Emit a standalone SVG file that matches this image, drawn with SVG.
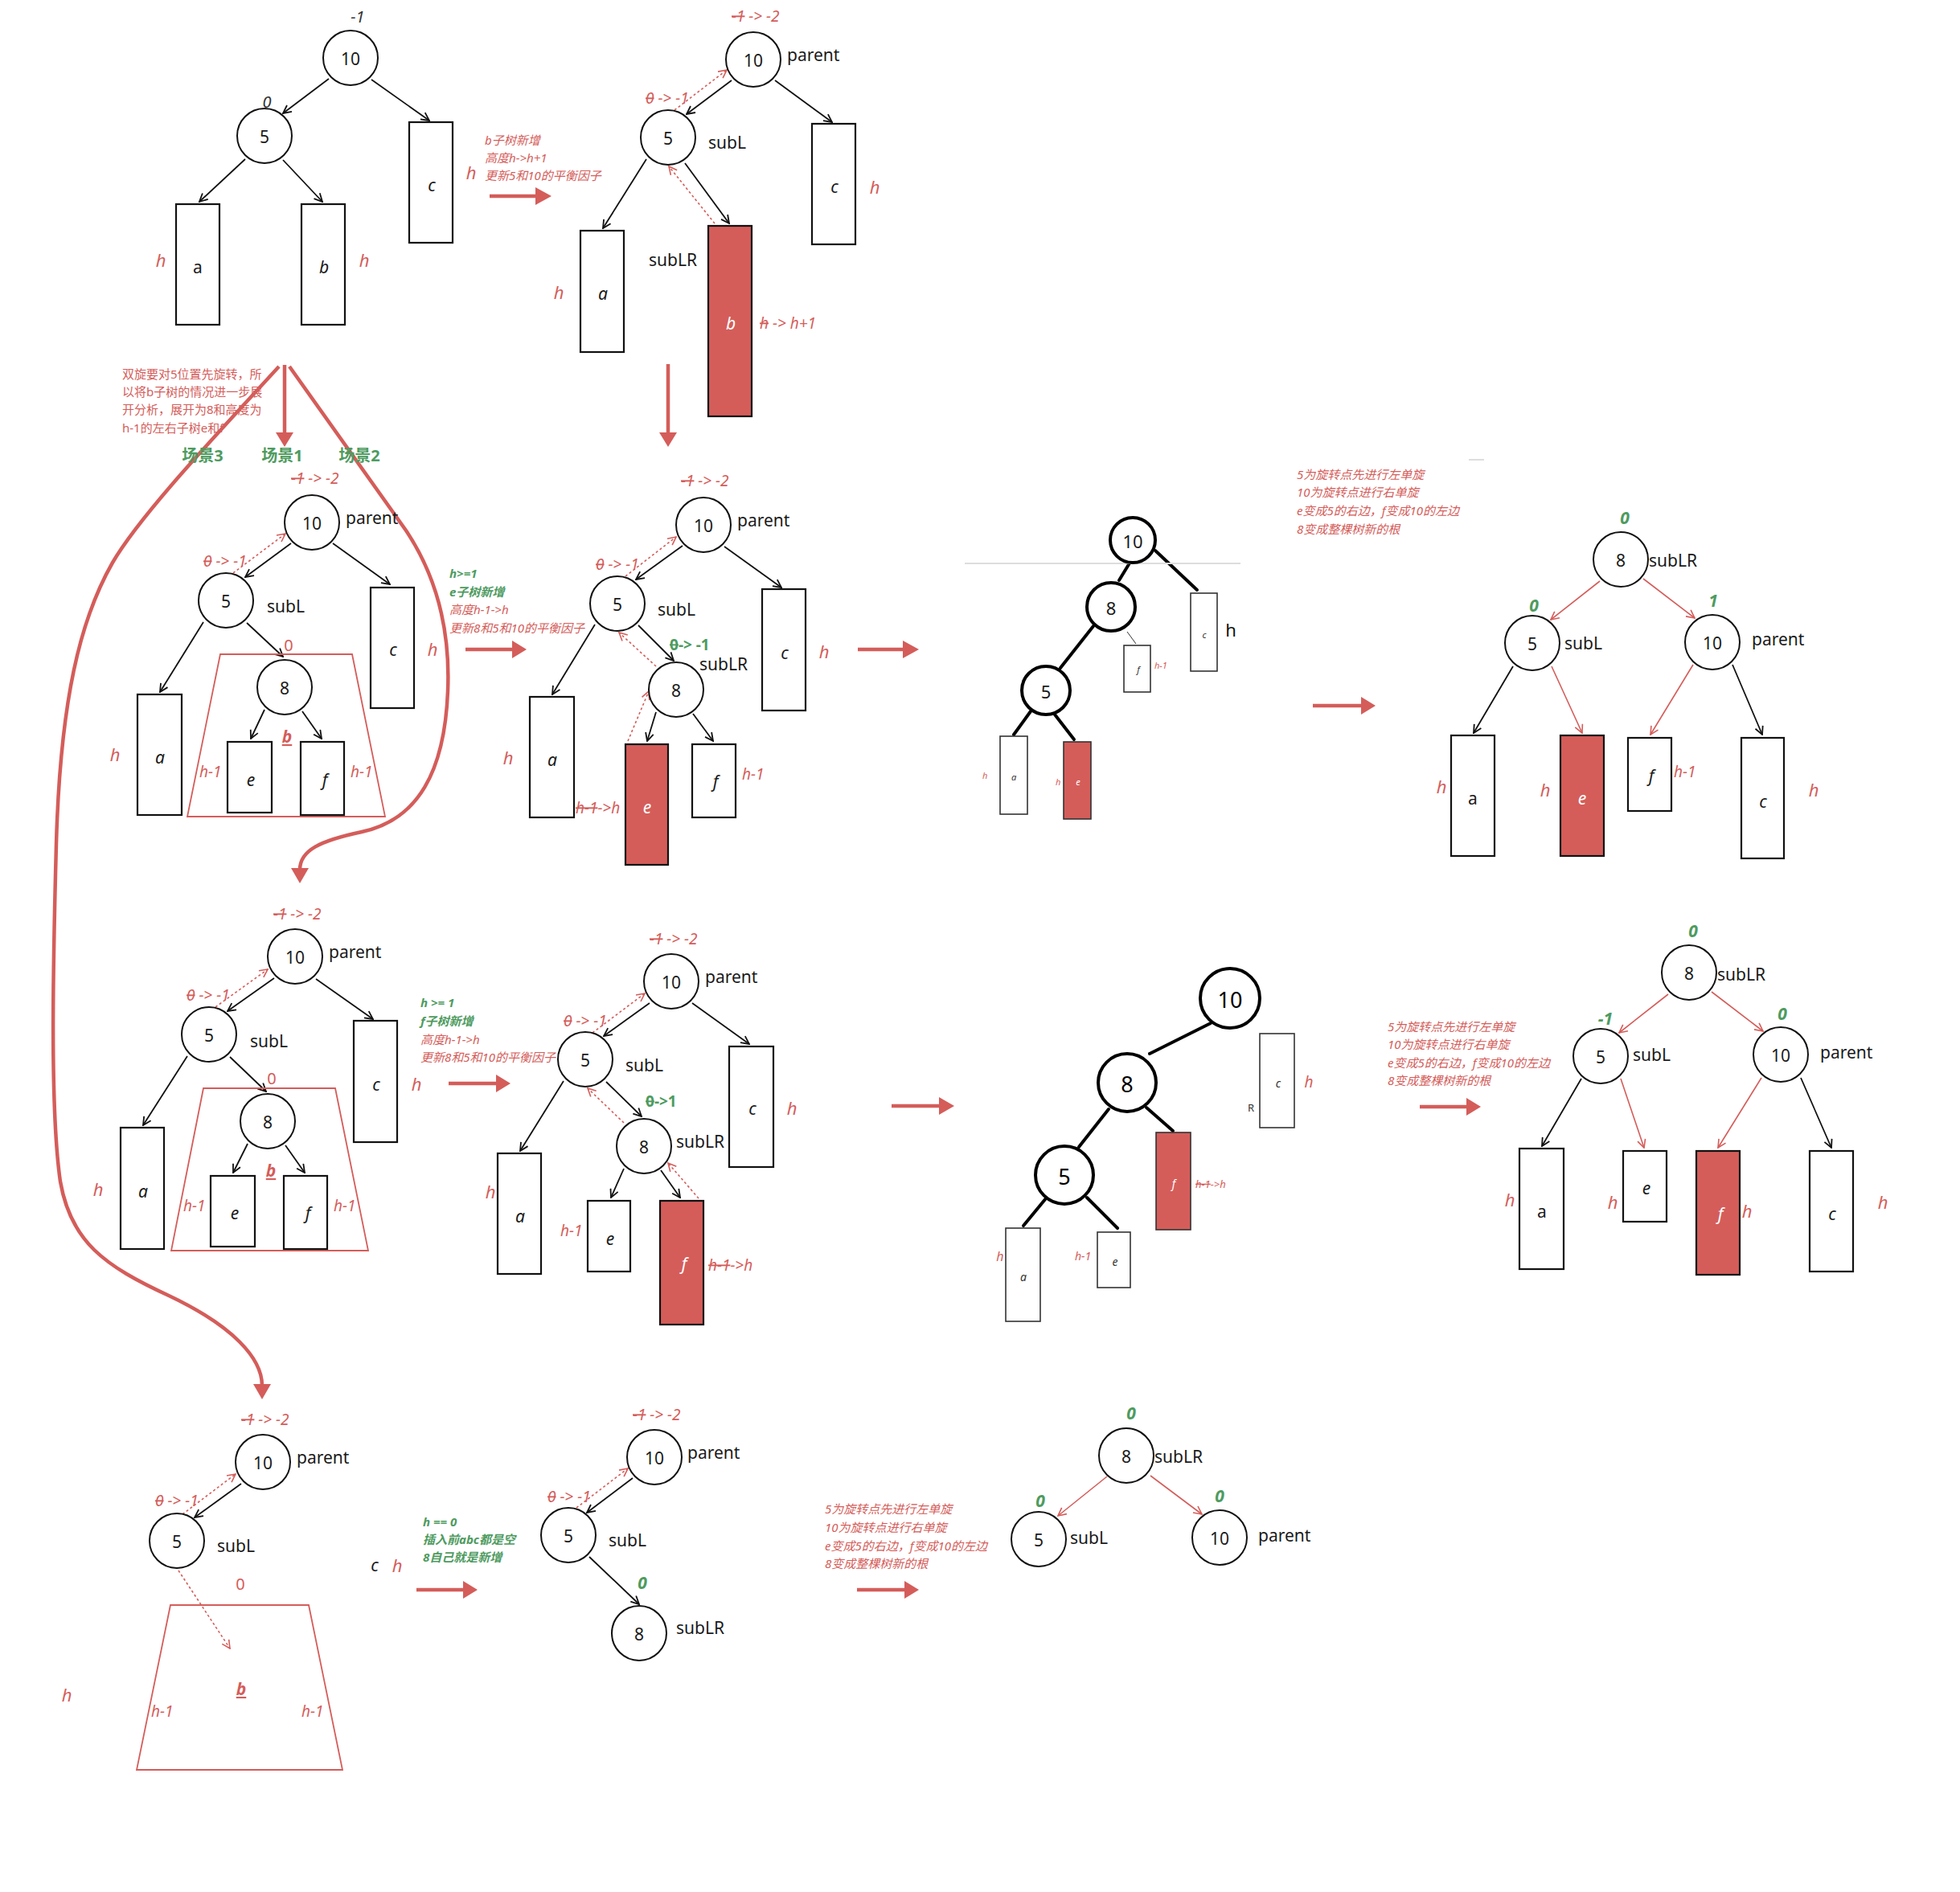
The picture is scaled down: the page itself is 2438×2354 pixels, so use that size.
<svg xmlns="http://www.w3.org/2000/svg" width="2438" height="2354" viewBox="0 0 2438 2354">
<defs>
<style>
text{font-family:"Noto Sans","Noto Sans CJK SC",sans-serif}
.n{fill:#fff;stroke:#111;stroke-width:2}
.nk{fill:#fff;stroke:#000;stroke-width:4}
.bx{fill:#fff;stroke:#111;stroke-width:2.2}
.rb{fill:#d45d5a;stroke:#111;stroke-width:2.2}
.tb{fill:#fff;stroke:#333;stroke-width:1.6}
.trb{fill:#d45d5a;stroke:#333;stroke-width:1.6}
.tz{fill:none;stroke:#d45d5a;stroke-width:1.8}
.e{fill:none;stroke:#111;stroke-width:1.8;marker-end:url(#ka)}
.re{fill:none;stroke:#d45d5a;stroke-width:1.6;marker-end:url(#ra)}
.de{fill:none;stroke:#d45d5a;stroke-width:1.6;stroke-dasharray:3 3;marker-end:url(#ra)}
.tk{fill:none;stroke:#000;stroke-width:4;stroke-linecap:round}
.big{fill:none;stroke:#d45d5a;stroke-width:4.5}
.gl{fill:none;stroke:#ddd;stroke-width:2}
.ah{fill:#d45d5a}
.nt{font-size:21px;fill:#1a1a1a;text-anchor:middle;dominant-baseline:central}
.nb{font-size:27px;fill:#000;text-anchor:middle;dominant-baseline:central}
.lb{font-size:21px;fill:#1a1a1a}
.h{font-size:22px;font-style:italic;fill:#d45d5a;text-anchor:middle;dominant-baseline:central}
.bt{font-size:21px;font-style:italic;fill:#1a1a1a;text-anchor:middle;dominant-baseline:central}
.bn{font-size:21px;fill:#1a1a1a;text-anchor:middle;dominant-baseline:central}
.w{fill:#fff}
.bf{font-size:19px;font-style:italic;fill:#d45d5a;dominant-baseline:central}
.an{font-size:15px;font-style:italic;fill:#d45d5a;dominant-baseline:central}
.ag{font-size:15px;font-style:italic;font-weight:bold;fill:#4e9b5f;dominant-baseline:central}
.ar{font-size:15px;fill:#d45d5a;dominant-baseline:central}
.sc{font-size:20px;font-weight:bold;fill:#4e9b5f;text-anchor:middle;dominant-baseline:central}
.g0{font-size:21px;font-weight:bold;font-style:italic;fill:#4e9b5f;text-anchor:middle;dominant-baseline:central}
.gb{font-size:19px;font-weight:bold;fill:#4e9b5f;dominant-baseline:central}
.z{font-size:20px;fill:#d45d5a;text-anchor:middle;dominant-baseline:central}
.dk{font-size:20px;font-style:italic;fill:#333;text-anchor:middle;dominant-baseline:central}
.bb{font-size:21px;font-style:italic;font-weight:bold;fill:#d45d5a;text-anchor:middle;text-decoration:underline}
.s{text-decoration:line-through}
.sm{font-size:11px;fill:#333;text-anchor:middle;dominant-baseline:central}
.smi{font-size:11px;font-style:italic;fill:#333;text-anchor:middle;dominant-baseline:central}
.sr{font-size:11px;font-style:italic;fill:#d45d5a;dominant-baseline:central}
.hk{font-size:22px;fill:#111;text-anchor:middle;dominant-baseline:central}
</style>
<marker id="ka" viewBox="0 0 12 12" refX="11" refY="6" markerWidth="12" markerHeight="12" markerUnits="userSpaceOnUse" orient="auto"><path d="M1,1 L11,6 L1,11" fill="none" stroke="#111" stroke-width="1.8"/></marker>
<marker id="ra" viewBox="0 0 12 12" refX="11" refY="6" markerWidth="12" markerHeight="12" markerUnits="userSpaceOnUse" orient="auto"><path d="M1,1 L11,6 L1,11" fill="none" stroke="#d45d5a" stroke-width="1.6"/></marker>
</defs>
<rect width="2438" height="2354" fill="#fff"/>

<g id="connectors">
<!-- Tree A -->
<line class="e" x1="409" y1="98" x2="352" y2="141"/>
<line class="e" x1="462" y1="99" x2="534" y2="150"/>
<line class="e" x1="305" y1="198" x2="248" y2="251"/>
<line class="e" x1="352" y1="199" x2="401" y2="251"/>
<!-- Tree B -->
<line class="e" x1="910" y1="100" x2="854" y2="142"/>
<line class="e" x1="964" y1="100" x2="1035" y2="152"/>
<line class="e" x1="804" y1="198" x2="750" y2="284"/>
<line class="e" x1="852" y1="203" x2="907" y2="278"/>
<line class="de" x1="839" y1="137" x2="904" y2="87"/>
<line class="de" x1="889" y1="278" x2="832" y2="207"/>
<!-- Tree C -->
<line class="e" x1="362" y1="676" x2="305" y2="718"/>
<line class="e" x1="414" y1="676" x2="485" y2="727"/>
<line class="e" x1="253" y1="774" x2="199" y2="861"/>
<line class="e" x1="307" y1="775" x2="352" y2="817"/>
<line class="e" x1="329" y1="883" x2="312" y2="919"/>
<line class="e" x1="376" y1="885" x2="400" y2="919"/>
<line class="de" x1="290" y1="713" x2="355" y2="664"/>
<!-- Tree D -->
<line class="e" x1="849" y1="679" x2="791" y2="721"/>
<line class="e" x1="901" y1="680" x2="972" y2="731"/>
<line class="e" x1="740" y1="777" x2="687" y2="864"/>
<line class="e" x1="794" y1="778" x2="838" y2="822"/>
<line class="e" x1="816" y1="886" x2="805" y2="922"/>
<line class="e" x1="862" y1="888" x2="887" y2="922"/>
<line class="de" x1="778" y1="717" x2="841" y2="668"/>
<line class="de" x1="816" y1="829" x2="770" y2="787"/>
<line class="de" x1="781" y1="922" x2="807" y2="860"/>
<!-- Tree E -->
<line class="tk" x1="1406" y1="699" x2="1392" y2="722"/>
<line class="tk" x1="1437" y1="685" x2="1489" y2="734"/>
<line class="tk" x1="1360" y1="779" x2="1319" y2="831"/>
<line class="tk" x1="1282" y1="885" x2="1261" y2="914"/>
<line class="tk" x1="1312" y1="889" x2="1336" y2="920"/>
<line x1="1402" y1="786" x2="1413" y2="801" stroke="#333" stroke-width="1"/>
<!-- Tree F -->
<line class="re" x1="1990" y1="723" x2="1929" y2="771"/>
<line class="re" x1="2044" y1="720" x2="2108" y2="769"/>
<line class="re" x1="1930" y1="829" x2="1968" y2="912"/>
<line class="re" x1="2106" y1="827" x2="2053" y2="914"/>
<line class="e" x1="1882" y1="829" x2="1833" y2="912"/>
<line class="e" x1="2155" y1="827" x2="2192" y2="914"/>
<!-- Tree G -->
<line class="e" x1="341" y1="1217" x2="283" y2="1258"/>
<line class="e" x1="393" y1="1218" x2="464" y2="1268"/>
<line class="e" x1="233" y1="1314" x2="178" y2="1400"/>
<line class="e" x1="286" y1="1315" x2="331" y2="1358"/>
<line class="e" x1="308" y1="1423" x2="290" y2="1459"/>
<line class="e" x1="355" y1="1425" x2="379" y2="1459"/>
<line class="de" x1="268" y1="1253" x2="333" y2="1206"/>
<!-- Tree H -->
<line class="e" x1="808" y1="1248" x2="751" y2="1289"/>
<line class="e" x1="861" y1="1248" x2="932" y2="1299"/>
<line class="e" x1="701" y1="1345" x2="647" y2="1432"/>
<line class="e" x1="754" y1="1346" x2="798" y2="1389"/>
<line class="e" x1="776" y1="1454" x2="760" y2="1490"/>
<line class="e" x1="822" y1="1456" x2="846" y2="1490"/>
<line class="de" x1="737" y1="1285" x2="802" y2="1236"/>
<line class="de" x1="776" y1="1397" x2="731" y2="1354"/>
<line class="de" x1="869" y1="1491" x2="831" y2="1447"/>
<!-- Tree I -->
<line class="tk" x1="1506" y1="1273" x2="1430" y2="1311"/>
<line class="tk" x1="1379" y1="1380" x2="1342" y2="1427"/>
<line class="tk" x1="1426" y1="1378" x2="1459" y2="1407"/>
<line class="tk" x1="1301" y1="1491" x2="1273" y2="1525"/>
<line class="tk" x1="1352" y1="1490" x2="1390" y2="1528"/>
<!-- Tree J -->
<line class="re" x1="2075" y1="1237" x2="2014" y2="1285"/>
<line class="re" x1="2129" y1="1234" x2="2193" y2="1283"/>
<line class="re" x1="2016" y1="1342" x2="2045" y2="1428"/>
<line class="re" x1="2191" y1="1341" x2="2137" y2="1428"/>
<line class="e" x1="1967" y1="1342" x2="1918" y2="1426"/>
<line class="e" x1="2240" y1="1341" x2="2278" y2="1428"/>
<!-- Tree K -->
<line class="e" x1="300" y1="1846" x2="242" y2="1888"/>
<line class="de" x1="227" y1="1884" x2="293" y2="1834"/>
<line class="de" x1="222" y1="1954" x2="286" y2="2051"/>
<!-- Tree L -->
<line class="e" x1="787" y1="1839" x2="730" y2="1882"/>
<line class="e" x1="733" y1="1937" x2="795" y2="1996"/>
<line class="de" x1="717" y1="1876" x2="781" y2="1827"/>
<!-- Tree M -->
<line class="re" x1="1377" y1="1837" x2="1316" y2="1886"/>
<line class="re" x1="1431" y1="1836" x2="1495" y2="1884"/>

<!-- big red arrows -->
<line class="big" x1="609" y1="244" x2="668" y2="244"/><polygon class="ah" points="666,233 686,244 666,255"/>
<line class="big" x1="831" y1="453" x2="831" y2="540"/><polygon class="ah" points="820,538 842,538 831,556"/>
<line class="big" x1="354" y1="454" x2="354" y2="540"/><polygon class="ah" points="343,538 365,538 354,556"/>
<path class="big" d="M360,456 L505,660 C545,720 560,790 557,860 C553,960 520,1020 450,1035 C398,1046 373,1058 373,1082"/><polygon class="ah" points="362,1080 384,1080 373,1099"/>
<path class="big" d="M347,456 C270,540 175,640 140,700 C100,770 75,870 70,1050 C66,1200 62,1380 75,1470 C88,1545 130,1575 210,1612 C290,1650 326,1690 326,1724"/><polygon class="ah" points="315,1722 337,1722 326,1741"/>
<line class="big" x1="579" y1="808" x2="639" y2="808"/><polygon class="ah" points="637,797 655,808 637,819"/>
<line class="big" x1="1067" y1="808" x2="1125" y2="808"/><polygon class="ah" points="1123,797 1143,808 1123,819"/>
<line class="big" x1="1633" y1="878" x2="1695" y2="878"/><polygon class="ah" points="1693,867 1711,878 1693,889"/>
<line class="big" x1="558" y1="1348" x2="619" y2="1348"/><polygon class="ah" points="617,1337 635,1348 617,1359"/>
<line class="big" x1="1109" y1="1376" x2="1170" y2="1376"/><polygon class="ah" points="1168,1365 1187,1376 1168,1387"/>
<line class="big" x1="1766" y1="1377" x2="1826" y2="1377"/><polygon class="ah" points="1824,1366 1842,1377 1824,1388"/>
<line class="big" x1="518" y1="1978" x2="578" y2="1978"/><polygon class="ah" points="576,1967 594,1978 576,1989"/>
<line class="big" x1="1066" y1="1978" x2="1127" y2="1978"/><polygon class="ah" points="1125,1967 1143,1978 1125,1989"/>
</g>

<!-- ===== Tree A ===== -->
<g id="A10"><circle class="n" cx="436" cy="72" r="34"/><text class="nt" x="436" y="73">10</text></g>
<g id="A5"><circle class="n" cx="329" cy="169" r="34"/><text class="nt" x="329" y="170">5</text></g>
<g id="Aa"><rect class="bx" x="219" y="254" width="54" height="150"/><text class="bn" x="246" y="332">a</text></g>
<g id="Ab"><rect class="bx" x="375" y="254" width="54" height="150"/><text class="bt" x="403" y="332">b</text></g>
<g id="Ac"><rect class="bx" x="509" y="152" width="54" height="150"/><text class="bt" x="537" y="230">c</text></g>
<g id="A-labels">
<text class="dk" x="445" y="20">-1</text>
<text class="dk" x="332" y="126">0</text>
<text class="h" x="200" y="323">h</text>
<text class="h" x="453" y="323">h</text>
<text class="h" x="586" y="214">h</text>
</g>

<g id="note1">
<text class="an" x="603" y="174">b子树新增</text>
<text class="an" x="603" y="196">高度h-&gt;h+1</text>
<text class="an" x="603" y="218">更新5和10的平衡因子</text>
</g>

<!-- ===== Tree B ===== -->
<g id="B10"><circle class="n" cx="937" cy="74" r="34"/><text class="nt" x="937" y="75">10</text><text class="lb" x="979" y="76">parent</text></g>
<g id="B5"><circle class="n" cx="831" cy="171" r="34"/><text class="nt" x="831" y="172">5</text><text class="lb" x="881" y="185">subL</text></g>
<g id="Ba"><rect class="bx" x="722" y="287" width="54" height="151"/><text class="bt" x="750" y="365">a</text></g>
<g id="Bb"><rect class="rb" x="881" y="281" width="54" height="237"/><text class="bt w" x="909" y="402">b</text></g>
<g id="Bc"><rect class="bx" x="1010" y="154" width="54" height="150"/><text class="bt" x="1038" y="232">c</text></g>
<g id="B-labels">
<text class="bf" x="910" y="20"><tspan class="s">-1</tspan> -&gt; -2</text>
<text class="bf" x="803" y="122"><tspan class="s">0</tspan> -&gt; -1</text>
<text class="lb" x="807" y="331">subLR</text>
<text class="h" x="1088" y="232">h</text>
<text class="h" x="695" y="363">h</text>
<text class="bf" x="945" y="402"><tspan class="s">h</tspan> -&gt; h+1</text>
</g>

<g id="note-split">
<text class="ar" x="152" y="465">双旋要对5位置先旋转，所</text>
<text class="ar" x="152" y="487">以将b子树的情况进一步展</text>
<text class="ar" x="152" y="509">开分析，展开为8和高度为</text>
<text class="ar" x="152" y="532">h-1的左右子树e和f</text>
<text class="sc" x="252" y="566">场景3</text>
<text class="sc" x="351" y="566">场景1</text>
<text class="sc" x="447" y="566">场景2</text>
</g>

<!-- ===== Tree C ===== -->
<g id="C10"><circle class="n" cx="388" cy="650" r="34"/><text class="nt" x="388" y="651">10</text><text class="lb" x="430" y="652">parent</text></g>
<g id="C5"><circle class="n" cx="281" cy="747" r="34"/><text class="nt" x="281" y="748">5</text><text class="lb" x="332" y="762">subL</text></g>
<g id="Cb"><polygon class="tz" points="274,814 438,814 479,1016 233,1016"/></g>
<g id="C8"><circle class="n" cx="354" cy="855" r="34"/><text class="nt" x="354" y="856">8</text></g>
<g id="Ca"><rect class="bx" x="171" y="864" width="55" height="150"/><text class="bt" x="199" y="942">a</text></g>
<g id="Cc"><rect class="bx" x="461" y="731" width="54" height="150"/><text class="bt" x="489" y="808">c</text></g>
<g id="Ce"><rect class="bx" x="283" y="923" width="55" height="88"/><text class="bt" x="312" y="970">e</text></g>
<g id="Cf"><rect class="bx" x="374" y="923" width="54" height="91"/><text class="bt" x="404" y="970">f</text></g>
<g id="C-labels">
<text class="bf" x="362" y="595"><tspan class="s">-1</tspan> -&gt; -2</text>
<text class="bf" x="253" y="698"><tspan class="s">0</tspan> -&gt; -1</text>
<text class="z" x="359" y="802">0</text>
<text class="bb" x="357" y="924">b</text>
<text class="h" x="538" y="807">h</text>
<text class="h" x="143" y="938">h</text>
<text class="bf" x="248" y="960">h-1</text>
<text class="bf" x="436" y="960">h-1</text>
</g>

<g id="note2">
<text class="ag" x="559" y="713">h&gt;=1</text>
<text class="ag" x="559" y="736">e子树新增</text>
<text class="an" x="559" y="758">高度h-1-&gt;h</text>
<text class="an" x="559" y="781">更新8和5和10的平衡因子</text>
</g>

<!-- ===== Tree D ===== -->
<g id="D10"><circle class="n" cx="875" cy="653" r="34"/><text class="nt" x="875" y="654">10</text><text class="lb" x="917" y="655">parent</text></g>
<g id="D5"><circle class="n" cx="768" cy="751" r="34"/><text class="nt" x="768" y="752">5</text><text class="lb" x="818" y="766">subL</text></g>
<g id="D8"><circle class="n" cx="841" cy="858" r="34"/><text class="nt" x="841" y="859">8</text><text class="lb" x="870" y="834">subLR</text></g>
<g id="Da"><rect class="bx" x="659" y="867" width="55" height="150"/><text class="bt" x="687" y="945">a</text></g>
<g id="Dc"><rect class="bx" x="948" y="733" width="54" height="151"/><text class="bt" x="976" y="812">c</text></g>
<g id="De"><rect class="rb" x="778" y="926" width="53" height="150"/><text class="bt w" x="805" y="1004">e</text></g>
<g id="Df"><rect class="bx" x="861" y="926" width="54" height="91"/><text class="bt" x="890" y="972">f</text></g>
<g id="D-labels">
<text class="bf" x="847" y="598"><tspan class="s">-1</tspan> -&gt; -2</text>
<text class="bf" x="741" y="702"><tspan class="s">0</tspan> -&gt; -1</text>
<text class="gb" x="833" y="802"><tspan class="s">0</tspan>-&gt; -1</text>
<text class="h" x="1025" y="810">h</text>
<text class="h" x="632" y="942">h</text>
<text class="bf" x="923" y="963">h-1</text>
<text class="bf" x="716" y="1005"><tspan class="s">h-1</tspan>-&gt;h</text>
</g>

<!-- ===== Tree E (sketch) ===== -->
<g id="E-guides">
<line class="gl" x1="1200" y1="701" x2="1543" y2="701"/>
<line class="gl" x1="1827" y1="572" x2="1846" y2="572"/>
</g>
<g id="E10"><circle class="nk" cx="1409" cy="672" r="28"/><text class="nt" x="1409" y="673" style="font-size:22px">10</text></g>
<g id="E8"><circle class="nk" cx="1382" cy="755" r="30"/><text class="nt" x="1382" y="756" style="font-size:22px">8</text></g>
<g id="E5"><circle class="nk" cx="1301" cy="859" r="30"/><text class="nt" x="1301" y="860" style="font-size:22px">5</text></g>
<g id="Ec"><rect class="tb" x="1481" y="738" width="33" height="97"/><text class="smi" x="1498" y="789">c</text></g>
<g id="Ef"><rect class="tb" x="1398" y="803" width="33" height="58"/><text class="smi" x="1416" y="832">f</text></g>
<g id="Ea"><rect class="tb" x="1244" y="916" width="34" height="97"/><text class="smi" x="1261" y="966">a</text></g>
<g id="Ee"><rect class="trb" x="1323" y="923" width="34" height="96"/><text class="smi" x="1341" y="972" style="fill:#fff">e</text></g>
<g id="E-labels">
<text class="hk" x="1531" y="783">h</text>
<text class="sr" x="1436" y="827">h-1</text>
<text class="sr" x="1222" y="964">h</text>
<text class="sr" x="1313" y="972">h</text>
</g>
<g id="note3">
<text class="an" x="1613" y="590">5为旋转点先进行左单旋</text>
<text class="an" x="1613" y="612">10为旋转点进行右单旋</text>
<text class="an" x="1613" y="635">e变成5的右边，f变成10的左边</text>
<text class="an" x="1613" y="658">8变成整棵树新的根</text>
</g>

<!-- ===== Tree F ===== -->
<g id="F8"><circle class="n" cx="2016" cy="696" r="34"/><text class="nt" x="2016" y="697">8</text><text class="lb" x="2051" y="705">subLR</text></g>
<g id="F5"><circle class="n" cx="1906" cy="800" r="34"/><text class="nt" x="1906" y="801">5</text><text class="lb" x="1946" y="808">subL</text></g>
<g id="F10"><circle class="n" cx="2130" cy="799" r="34"/><text class="nt" x="2130" y="800">10</text><text class="lb" x="2179" y="803">parent</text></g>
<g id="Fa"><rect class="bx" x="1805" y="915" width="54" height="150"/><text class="bn" x="1832" y="993">a</text></g>
<g id="Fe"><rect class="rb" x="1941" y="915" width="54" height="150"/><text class="bt w" x="1968" y="993">e</text></g>
<g id="Ff"><rect class="bx" x="2025" y="918" width="54" height="91"/><text class="bt" x="2054" y="965">f</text></g>
<g id="Fc"><rect class="bx" x="2166" y="918" width="53" height="150"/><text class="bt" x="2193" y="997">c</text></g>
<g id="F-labels">
<text class="g0" x="2021" y="644">0</text>
<text class="g0" x="1908" y="753">0</text>
<text class="g0" x="2131" y="747">1</text>
<text class="h" x="1793" y="978">h</text>
<text class="h" x="1922" y="982">h</text>
<text class="bf" x="2082" y="960">h-1</text>
<text class="h" x="2256" y="982">h</text>
</g>

<!-- ===== Tree G ===== -->
<g id="G10"><circle class="n" cx="367" cy="1190" r="34"/><text class="nt" x="367" y="1191">10</text><text class="lb" x="409" y="1192">parent</text></g>
<g id="G5"><circle class="n" cx="260" cy="1287" r="34"/><text class="nt" x="260" y="1288">5</text><text class="lb" x="311" y="1303">subL</text></g>
<g id="Gb"><polygon class="tz" points="253,1354 417,1354 458,1556 213,1556"/></g>
<g id="G8"><circle class="n" cx="333" cy="1395" r="34"/><text class="nt" x="333" y="1396">8</text></g>
<g id="Ga"><rect class="bx" x="150" y="1403" width="54" height="151"/><text class="bt" x="178" y="1482">a</text></g>
<g id="Gc"><rect class="bx" x="440" y="1270" width="54" height="151"/><text class="bt" x="468" y="1349">c</text></g>
<g id="Ge"><rect class="bx" x="262" y="1463" width="55" height="88"/><text class="bt" x="292" y="1509">e</text></g>
<g id="Gf"><rect class="bx" x="353" y="1463" width="54" height="91"/><text class="bt" x="383" y="1509">f</text></g>
<g id="G-labels">
<text class="bf" x="340" y="1137"><tspan class="s">-1</tspan> -&gt; -2</text>
<text class="bf" x="232" y="1238"><tspan class="s">0</tspan> -&gt; -1</text>
<text class="z" x="338" y="1341">0</text>
<text class="bb" x="337" y="1464">b</text>
<text class="h" x="518" y="1348">h</text>
<text class="h" x="122" y="1479">h</text>
<text class="bf" x="228" y="1500">h-1</text>
<text class="bf" x="415" y="1500">h-1</text>
</g>

<g id="note4">
<text class="ag" x="523" y="1247">h &gt;= 1</text>
<text class="ag" x="523" y="1270">f子树新增</text>
<text class="an" x="523" y="1293">高度h-1-&gt;h</text>
<text class="an" x="523" y="1315">更新8和5和10的平衡因子</text>
</g>

<!-- ===== Tree H ===== -->
<g id="H10"><circle class="n" cx="835" cy="1221" r="34"/><text class="nt" x="835" y="1222">10</text><text class="lb" x="877" y="1223">parent</text></g>
<g id="H5"><circle class="n" cx="728" cy="1318" r="34"/><text class="nt" x="728" y="1319">5</text><text class="lb" x="778" y="1333">subL</text></g>
<g id="H8"><circle class="n" cx="801" cy="1426" r="34"/><text class="nt" x="801" y="1427">8</text><text class="lb" x="841" y="1428">subLR</text></g>
<g id="Ha"><rect class="bx" x="619" y="1435" width="54" height="150"/><text class="bt" x="647" y="1513">a</text></g>
<g id="Hc"><rect class="bx" x="907" y="1302" width="55" height="150"/><text class="bt" x="936" y="1379">c</text></g>
<g id="He"><rect class="bx" x="731" y="1494" width="53" height="88"/><text class="bt" x="759" y="1541">e</text></g>
<g id="Hf"><rect class="rb" x="821" y="1494" width="54" height="154"/><text class="bt w" x="851" y="1572">f</text></g>
<g id="H-labels">
<text class="bf" x="808" y="1168"><tspan class="s">-1</tspan> -&gt; -2</text>
<text class="bf" x="701" y="1270"><tspan class="s">0</tspan> -&gt; -1</text>
<text class="gb" x="803" y="1370"><tspan class="s">0</tspan>-&gt;1</text>
<text class="h" x="985" y="1378">h</text>
<text class="h" x="610" y="1482">h</text>
<text class="bf" x="697" y="1531">h-1</text>
<text class="bf" x="881" y="1574"><tspan class="s">h-1</tspan>-&gt;h</text>
</g>

<!-- ===== Tree I (sketch) ===== -->
<g id="I10"><circle class="nk" cx="1530" cy="1242" r="37"/><text class="nb" x="1530" y="1243">10</text></g>
<g id="I8"><circle class="nk" cx="1402" cy="1347" r="36"/><text class="nb" x="1402" y="1348">8</text></g>
<g id="I5"><circle class="nk" cx="1324" cy="1462" r="36"/><text class="nb" x="1324" y="1463">5</text></g>
<g id="If"><rect class="trb" x="1438" y="1409" width="43" height="121"/><text class="smi" x="1460" y="1472" style="fill:#fff;font-size:14px">f</text></g>
<g id="Ic"><rect class="tb" x="1567" y="1286" width="43" height="117"/><text class="smi" x="1590" y="1347" style="font-size:14px">c</text></g>
<g id="Ia"><rect class="tb" x="1251" y="1528" width="43" height="116"/><text class="smi" x="1273" y="1588" style="font-size:14px">a</text></g>
<g id="Ie"><rect class="tb" x="1365" y="1533" width="41" height="69"/><text class="smi" x="1387" y="1569" style="font-size:14px">e</text></g>
<g id="I-labels">
<text class="sr" x="1487" y="1473" style="font-size:13px"><tspan class="s">h-1</tspan>-&gt;h</text>
<text class="h" x="1628" y="1346" style="font-size:19px">h</text>
<text class="sm" x="1556" y="1378" style="font-size:13px">R</text>
<text class="h" x="1244" y="1563" style="font-size:16px">h</text>
<text class="sr" x="1337" y="1562" style="font-size:14px">h-1</text>
</g>
<g id="note5">
<text class="an" x="1726" y="1277">5为旋转点先进行左单旋</text>
<text class="an" x="1726" y="1299">10为旋转点进行右单旋</text>
<text class="an" x="1726" y="1322">e变成5的右边，f变成10的左边</text>
<text class="an" x="1726" y="1344">8变成整棵树新的根</text>
</g>

<!-- ===== Tree J ===== -->
<g id="J8"><circle class="n" cx="2101" cy="1210" r="34"/><text class="nt" x="2101" y="1211">8</text><text class="lb" x="2136" y="1220">subLR</text></g>
<g id="J5"><circle class="n" cx="1991" cy="1314" r="34"/><text class="nt" x="1991" y="1315">5</text><text class="lb" x="2031" y="1320">subL</text></g>
<g id="J10"><circle class="n" cx="2215" cy="1312" r="34"/><text class="nt" x="2215" y="1313">10</text><text class="lb" x="2264" y="1317">parent</text></g>
<g id="Ja"><rect class="bx" x="1890" y="1429" width="55" height="150"/><text class="bn" x="1918" y="1507">a</text></g>
<g id="Je"><rect class="bx" x="2019" y="1432" width="54" height="88"/><text class="bt" x="2048" y="1478">e</text></g>
<g id="Jf"><rect class="rb" x="2110" y="1432" width="54" height="154"/><text class="bt w" x="2140" y="1510">f</text></g>
<g id="Jc"><rect class="bx" x="2251" y="1432" width="54" height="150"/><text class="bt" x="2279" y="1510">c</text></g>
<g id="J-labels">
<text class="g0" x="2106" y="1158">0</text>
<text class="g0" x="1997" y="1267">-1</text>
<text class="g0" x="2217" y="1261">0</text>
<text class="h" x="1878" y="1492">h</text>
<text class="h" x="2006" y="1495">h</text>
<text class="h" x="2173" y="1506">h</text>
<text class="h" x="2342" y="1495">h</text>
</g>

<!-- ===== Tree K ===== -->
<g id="K10"><circle class="n" cx="327" cy="1819" r="34"/><text class="nt" x="327" y="1820">10</text><text class="lb" x="369" y="1821">parent</text></g>
<g id="K5"><circle class="n" cx="220" cy="1917" r="34"/><text class="nt" x="220" y="1918">5</text><text class="lb" x="270" y="1931">subL</text></g>
<g id="Kb"><polygon class="tz" points="212,1997 384,1997 426,2202 170,2202"/></g>
<g id="K-labels">
<text class="bf" x="300" y="1766"><tspan class="s">-1</tspan> -&gt; -2</text>
<text class="bf" x="193" y="1867"><tspan class="s">0</tspan> -&gt; -1</text>
<text class="bt" x="466" y="1947">c</text>
<text class="h" x="494" y="1947">h</text>
<text class="z" x="299" y="1970">0</text>
<text class="bb" x="300" y="2109">b</text>
<text class="bf" x="188" y="2129">h-1</text>
<text class="bf" x="375" y="2129">h-1</text>
<text class="h" x="83" y="2108">h</text>
</g>
<g id="note6">
<text class="ag" x="526" y="1893">h == 0</text>
<text class="ag" x="526" y="1915">插入前abc都是空</text>
<text class="ag" x="526" y="1937">8自己就是新增</text>
</g>

<!-- ===== Tree L ===== -->
<g id="L10"><circle class="n" cx="814" cy="1813" r="34"/><text class="nt" x="814" y="1814">10</text><text class="lb" x="855" y="1815">parent</text></g>
<g id="L5"><circle class="n" cx="707" cy="1910" r="34"/><text class="nt" x="707" y="1911">5</text><text class="lb" x="757" y="1924">subL</text></g>
<g id="L8"><circle class="n" cx="795" cy="2032" r="34"/><text class="nt" x="795" y="2033">8</text><text class="lb" x="841" y="2033">subLR</text></g>
<g id="L-labels">
<text class="bf" x="787" y="1760"><tspan class="s">-1</tspan> -&gt; -2</text>
<text class="bf" x="681" y="1862"><tspan class="s">0</tspan> -&gt; -1</text>
<text class="g0" x="799" y="1969">0</text>
</g>
<g id="note7">
<text class="an" x="1026" y="1877">5为旋转点先进行左单旋</text>
<text class="an" x="1026" y="1900">10为旋转点进行右单旋</text>
<text class="an" x="1026" y="1923">e变成5的右边，f变成10的左边</text>
<text class="an" x="1026" y="1945">8变成整棵树新的根</text>
</g>

<!-- ===== Tree M ===== -->
<g id="M8"><circle class="n" cx="1401" cy="1811" r="34"/><text class="nt" x="1401" y="1812">8</text><text class="lb" x="1436" y="1820">subLR</text></g>
<g id="M5"><circle class="n" cx="1292" cy="1915" r="34"/><text class="nt" x="1292" y="1916">5</text><text class="lb" x="1331" y="1921">subL</text></g>
<g id="M10"><circle class="n" cx="1517" cy="1913" r="34"/><text class="nt" x="1517" y="1914">10</text><text class="lb" x="1565" y="1918">parent</text></g>
<g id="M-labels">
<text class="g0" x="1407" y="1758">0</text>
<text class="g0" x="1294" y="1867">0</text>
<text class="g0" x="1517" y="1861">0</text>
</g>
</svg>
